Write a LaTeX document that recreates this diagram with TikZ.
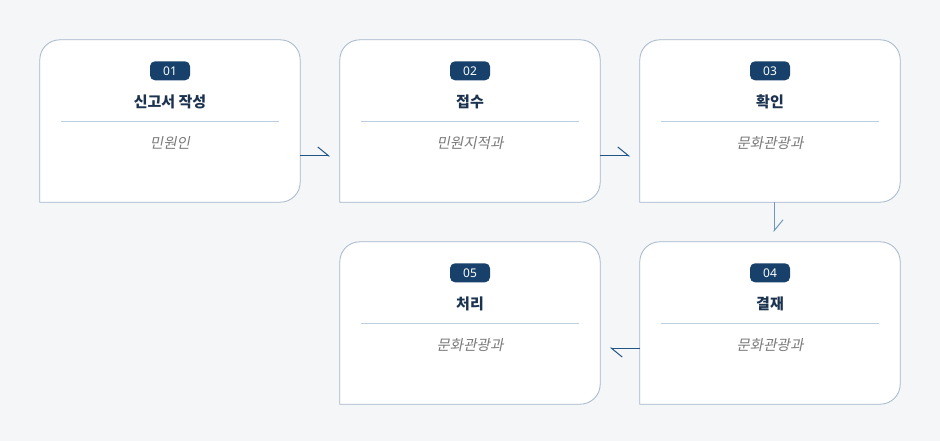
\documentclass[tikz,border=0pt]{standalone}
\usepackage{fontspec}
\setmainfont{Noto Sans CJK KR}
\newfontfamily\krit[FakeSlant=0.2]{Noto Sans CJK KR}
\newfontfamily\numfont{Noto Sans}
\usetikzlibrary{arrows.meta}
\definecolor{bg}{HTML}{F5F6F8}
\definecolor{boxline}{HTML}{A5B6CA}
\definecolor{navy}{HTML}{17416B}
\definecolor{titlec}{HTML}{1C3350}
\definecolor{divc}{HTML}{BCCFE0}
\definecolor{subc}{HTML}{7A7A7A}
\definecolor{arrc}{HTML}{1F5487}
\definecolor{arrv}{HTML}{6F96BC}
\tikzset{
  stepbox/.style={minimum width=260pt, minimum height=162pt, inner sep=0pt},
  badge/.style={fill=navy, rounded corners=5pt, minimum width=40pt, minimum height=19pt, inner sep=0pt, text=white, font=\numfont\fontsize{12}{12}\selectfont},
  titletext/.style={text=titlec, font=\bfseries\fontsize{15}{15}\selectfont, inner sep=0pt},
  subtext/.style={text=subc, font=\krit\fontsize{14.5}{14.5}\selectfont, inner sep=0pt},
  divider/.style={draw=divc, line width=0.8pt},
  conn/.style={draw=arrc, line width=1pt, -{Straight Barb[left, length=11pt, width=18pt, line width=1pt]}},
}
\newcommand{\stepcard}[5]{%
  \node[stepbox] (#1) at (#2) {};
  \draw[boxline, fill=white, line width=0.8pt] (#1.south west) [rounded corners=20pt] -- (#1.north west) -- (#1.north east) -- (#1.south east) [sharp corners] -- cycle;
  \node[badge] (#1badge) at ([yshift=-31pt]#1.north) {#3};
  \node[titletext] (#1title) at ([yshift=-62pt]#1.north) {#4};
  \coordinate (#1dl) at ([xshift=21pt,yshift=-82pt]#1.north west);
  \coordinate (#1dr) at ([xshift=-21pt,yshift=-82pt]#1.north east);
  \draw[divider] (#1dl) -- (#1dr);
  \node[subtext] (#1sub) at ([yshift=-103pt]#1.north) {#5};
}
\begin{document}
\begin{tikzpicture}[x=1pt,y=-1pt]
\fill[bg] (0,0) rectangle (940,441);
\useasboundingbox (0,0) rectangle (940,441);
\stepcard{s1}{170,121}{01}{신고서 작성}{민원인}
\stepcard{s2}{470,121}{02}{접수}{민원지적과}
\stepcard{s3}{770,121}{03}{확인}{문화관광과}
\stepcard{s4}{770,323}{04}{결재}{문화관광과}
\stepcard{s5}{470,323}{05}{처리}{문화관광과}
\coordinate (a1s) at ([yshift=-35pt]s1.east);
\coordinate (a1e) at ([xshift=30pt,yshift=-35pt]s1.east);
\coordinate (a2s) at ([yshift=-35pt]s2.east);
\coordinate (a2e) at ([xshift=30pt,yshift=-35pt]s2.east);
\coordinate (a3s) at ([xshift=4pt]s3.south);
\coordinate (a3e) at ([xshift=4pt,yshift=-30pt]s3.south);
\coordinate (a4s) at ([yshift=-25pt]s4.west);
\coordinate (a4e) at ([xshift=-30pt,yshift=-25pt]s4.west);
\draw[conn] (a1s) -- (a1e);
\draw[conn] (a2s) -- (a2e);
\draw[conn, draw=arrv] (a3s) -- (a3e);
\draw[conn] (a4s) -- (a4e);
\end{tikzpicture}
\end{document}
